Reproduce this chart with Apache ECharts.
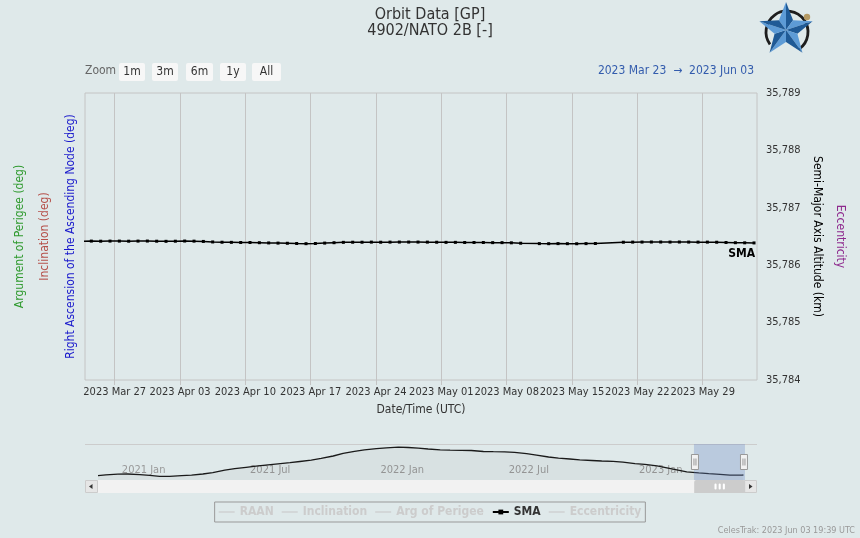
<!DOCTYPE html>
<html><head><meta charset="utf-8">
<script src="https://cdn.jsdelivr.net/npm/echarts@6/dist/echarts.min.js"></script>
<style>html,body{margin:0;padding:0;background:#dfe9ea;}#c{width:860px;height:538px;}</style>
</head><body><div id="c"></div>
<script>
// ---------- data ----------
const smaDates = [
 '2023-03-23 12:00','2023-03-24 12:00','2023-03-25 12:00','2023-03-26 12:00','2023-03-27 12:00','2023-03-28 12:00',
 '2023-03-29 12:00','2023-03-30 12:00','2023-03-31 12:00','2023-04-01 12:00','2023-04-02 12:00','2023-04-03 12:00',
 '2023-04-04 12:00','2023-04-05 12:00','2023-04-06 12:00','2023-04-07 12:00','2023-04-08 12:00','2023-04-09 12:00',
 '2023-04-10 12:00','2023-04-11 12:00','2023-04-12 12:00','2023-04-13 12:00','2023-04-14 12:00','2023-04-15 12:00',
 '2023-04-16 12:00','2023-04-17 12:00','2023-04-18 12:00','2023-04-19 12:00','2023-04-20 12:00','2023-04-21 12:00',
 '2023-04-22 12:00','2023-04-23 12:00','2023-04-24 12:00','2023-04-25 12:00','2023-04-26 12:00','2023-04-27 12:00',
 '2023-04-28 12:00','2023-04-29 12:00','2023-04-30 12:00','2023-05-01 12:00','2023-05-02 12:00','2023-05-03 12:00',
 '2023-05-04 12:00','2023-05-05 12:00','2023-05-06 12:00','2023-05-07 12:00','2023-05-08 12:00','2023-05-09 12:00',
 '2023-05-11 12:00','2023-05-12 12:00','2023-05-13 12:00','2023-05-14 12:00','2023-05-15 12:00','2023-05-16 12:00',
 '2023-05-17 12:00','2023-05-20 12:00','2023-05-21 12:00','2023-05-22 12:00','2023-05-23 12:00','2023-05-24 12:00',
 '2023-05-25 12:00','2023-05-26 12:00','2023-05-27 12:00','2023-05-28 12:00','2023-05-29 12:00','2023-05-30 12:00',
 '2023-05-31 12:00','2023-06-01 12:00','2023-06-02 12:00','2023-06-03 12:00'
];
const smaValues = [
 35786.418,35786.420,35786.418,35786.420,35786.420,35786.418,
 35786.420,35786.421,35786.418,35786.416,35786.418,35786.421,
 35786.419,35786.414,35786.405,35786.400,35786.398,35786.396,
 35786.395,35786.392,35786.388,35786.385,35786.382,35786.378,
 35786.375,35786.378,35786.385,35786.392,35786.398,35786.400,
 35786.400,35786.402,35786.400,35786.402,35786.403,35786.403,
 35786.403,35786.402,35786.400,35786.398,35786.398,35786.396,
 35786.396,35786.395,35786.393,35786.393,35786.390,35786.383,
 35786.376,35786.375,35786.376,35786.375,35786.374,35786.376,
 35786.378,35786.400,35786.402,35786.403,35786.404,35786.404,
 35786.403,35786.404,35786.403,35786.402,35786.402,35786.400,
 35786.396,35786.392,35786.390,35786.388
];
// weekly tick labels on the date axis
const weekTicks = ['2023-03-27','2023-04-03','2023-04-10','2023-04-17','2023-04-24','2023-05-01',
 '2023-05-08','2023-05-15','2023-05-22','2023-05-29'];
// navigator (base series = RAAN, deg)
const navDates = [
 '2020-12-04','2020-12-15','2021-01-01','2021-01-15','2021-02-01','2021-02-15','2021-03-01','2021-03-15',
 '2021-04-01','2021-04-15','2021-05-01','2021-05-15','2021-06-01','2021-06-15','2021-07-01','2021-07-15',
 '2021-08-01','2021-08-15','2021-09-01','2021-09-15','2021-10-01','2021-10-15','2021-11-01','2021-11-15',
 '2021-12-01','2021-12-15','2022-01-01','2022-01-15','2022-02-01','2022-02-15','2022-03-01','2022-03-15',
 '2022-04-01','2022-04-15','2022-05-01','2022-05-15','2022-06-01','2022-06-15','2022-07-01','2022-07-15',
 '2022-08-01','2022-08-15','2022-09-01','2022-09-15','2022-10-01','2022-10-15','2022-11-01','2022-11-15',
 '2022-12-01','2022-12-15','2023-01-01','2023-01-15','2023-02-01','2023-02-15','2023-03-01','2023-03-15',
 '2023-04-01','2023-04-15','2023-05-01','2023-05-15','2023-06-01','2023-06-03'
];
const navRaan = [
 338.08,338.28,338.45,338.50,338.35,338.15,337.90,337.93,
 338.10,338.20,338.50,338.83,339.45,339.83,340.18,340.48,
 340.80,341.05,341.35,341.63,341.95,342.38,343.00,343.65,
 344.18,344.55,344.85,345.05,345.23,345.13,344.95,344.75,
 344.53,344.45,344.43,344.38,344.13,344.08,344.05,343.90,
 343.58,343.23,342.75,342.45,342.25,342.05,341.88,341.75,
 341.65,341.48,341.10,340.90,340.53,340.05,339.55,339.05,
 338.78,338.58,338.40,338.20,338.23,338.25
];
const legendNames = ['RAAN','Inclination','Arg of Perigee','SMA','Eccentricity'];
const smaAxis = {min:35784, max:35789, step:1};
const windowRange = ['2023-03-23 19:39','2023-06-03 19:39'];
const navRange = ['2020-12-04 00:00','2023-06-03 19:39'];
const zoomButtons = ['1m','3m','6m','1y','All'];

// ---------- helpers ----------
const FONT = "'DejaVu Sans Condensed','DejaVu Sans',sans-serif";
const MON = ['Jan','Feb','Mar','Apr','May','Jun','Jul','Aug','Sep','Oct','Nov','Dec'];
const ts = s => new Date(s.replace(' ','T') + (s.length<=10?'T00:00':'') + 'Z').getTime();
const EPOCH = Date.UTC(2023,2,27);
const day = t => (t - EPOCH)/864e5;
const fmtDay = v => { const d = new Date(EPOCH + v*864e5); return d.getUTCFullYear()+' '+MON[d.getUTCMonth()]+' '+String(d.getUTCDate()).padStart(2,'0'); };
const comma = v => String(v).replace(/\B(?=(\d{3})+(?!\d))/g, ',');

const smaData = smaDates.map((d,i)=>[day(ts(d)), smaValues[i]]);
const navData = navDates.map((d,i)=>[ts(d), navRaan[i]]);
const weekVals = weekTicks.map(d=>day(ts(d)));

// logo (decoration)
const logo = [];
(function(){
  const cx=786, cy=30, R=28, r=12;
  const P=(a,rad)=>[cx+rad*Math.cos(a*Math.PI/180), cy+rad*Math.sin(a*Math.PI/180)];
  logo.push({type:'arc', shape:{cx:cx+1, cy:cy+2, r:21, startAngle:Math.PI*0.8, endAngle:Math.PI*2.3}, style:{stroke:'#1e1e1e', lineWidth:2.8, fill:null}, z:10});
  for(let i=0;i<5;i++){
    const a=-90+72*i;
    const O=P(a,R), L=P(a-36,r), Rr=P(a+36,r);
    logo.push({type:'polygon', shape:{points:[[cx,cy],O,L]}, style:{fill:'#5d9bd6'}, z:11});
    logo.push({type:'polygon', shape:{points:[[cx,cy],O,Rr]}, style:{fill:'#1f5a96'}, z:11});
  }
  logo.push({type:'circle', shape:{cx:807, cy:17, r:3.2}, style:{fill:'#b59a64'}, z:11});
})();

const btnX = [119,152,186,220,252], btnW=[26,26,27,26,29];
const graphics = [
  {type:'text', left:85, top:65, style:{text:'Zoom', fill:'#666', font:'12px '+FONT}},
  ...zoomButtons.map((b,i)=>({type:'group', left:btnX[i], top:63, children:[
     {type:'rect', shape:{x:0,y:0,width:btnW[i],height:18, r:2}, style:{fill:'#f7f7f7'}},
     {type:'text', style:{text:b, x:btnW[i]/2, y:9, align:'center', verticalAlign:'middle', fill:'#333', font:'12px '+FONT}}
  ]})),
  {type:'text', right:106, top:65, style:{text:fmtDay(day(ts(windowRange[0])))+'  \u2192  '+fmtDay(day(ts(windowRange[1]))), fill:'#335cad', font:'12px '+FONT}},
  {type:'line', shape:{x1:85,y1:444.5,x2:757,y2:444.5}, style:{stroke:'#cccccc', lineWidth:1}},
  {type:'rect', shape:{x:85,y:480,width:672,height:13}, style:{fill:'#f2f2f2'}, z:-1},
  {type:'group', left:85, top:480, children:[
    {type:'rect', shape:{x:0.5,y:0.5,width:12,height:12}, style:{fill:'#e6e6e6', stroke:'#cccccc'}},
    {type:'polygon', shape:{points:[[4,6.5],[7.5,4],[7.5,9]]}, style:{fill:'#333'}}
  ]},
  {type:'group', left:744, top:480, children:[
    {type:'rect', shape:{x:0.5,y:0.5,width:12,height:12}, style:{fill:'#e6e6e6', stroke:'#cccccc'}},
    {type:'polygon', shape:{points:[[8.5,6.5],[5,4],[5,9]]}, style:{fill:'#333'}}
  ]},
  {type:'text', right:5, top:526, style:{text:'CelesTrak: 2023 Jun 03 19:39 UTC', fill:'#999', font:'9px '+FONT}},
  ...logo
];

const hiddenAxis = (name, color, pos, offset, rot) => ({
  type:'value', gridIndex:0, position:pos, offset:offset,
  axisLine:{show:false}, axisTick:{show:false}, axisLabel:{show:false}, splitLine:{show:false},
  name:name, nameLocation:'middle', nameRotate:rot, nameGap:8,
  nameTextStyle:{color:color, fontSize:12, fontFamily:FONT}
});
const lineIcon = 'path://M0,0 M16,6 M0,2.4 L16,2.4 L16,3.6 L0,3.6 Z';

const option = {
  backgroundColor:'#dfe9ea',
  useUTC:true,
  animation:false,
  textStyle:{fontFamily:FONT},
  title:{text:'Orbit Data [GP]', subtext:'4902/NATO 2B [-]', left:'center', top:2, itemGap:0,
    textStyle:{fontSize:16, fontWeight:'normal', color:'#333', fontFamily:FONT},
    subtextStyle:{fontSize:16, color:'#333', fontFamily:FONT}},
  legend:{
    data:legendNames.map(n => n==='SMA' ? {name:n} : {name:n, icon:lineIcon}),
    top:502, left:'center', borderColor:'#999', borderWidth:1, padding:[4,4],
    itemGap:8, itemWidth:16, itemHeight:6,
    selected:{'RAAN':false,'Inclination':false,'Arg of Perigee':false,'Eccentricity':false},
    inactiveColor:'#cccccc', inactiveBorderColor:'#cccccc',
    textStyle:{fontWeight:'bold', fontSize:12, color:'#333', fontFamily:FONT}},
  grid:[
    {left:85, right:103, top:93, bottom:158, show:true, borderColor:'#c4c4c4', borderWidth:1, backgroundColor:'transparent'},
    {left:98, right:116, top:444, height:36}
  ],
  xAxis:[
    {type:'value', gridIndex:0, min:day(ts(navRange[0])), max:day(ts(navRange[1])),
     axisLine:{show:false},
     axisTick:{show:true, length:5, lineStyle:{color:'#c4c4c4'}, customValues:weekVals},
     axisLabel:{color:'#333', fontSize:11, margin:7, formatter:fmtDay, customValues:weekVals},
     splitLine:{show:true, lineStyle:{color:'#c4c4c4', width:1}},
     name:'Date/Time (UTC)', nameLocation:'middle', nameGap:24, nameTextStyle:{color:'#333', fontSize:12}},
    {type:'time', gridIndex:1, min:ts(navRange[0]), max:ts(navRange[1]), splitNumber:5,
     axisLine:{show:false}, axisTick:{show:false}, splitLine:{show:false},
     axisLabel:{inside:true, color:'#999', fontSize:11, align:'left', padding:[0,0,0,4], margin:4,
       showMinLabel:false, showMaxLabel:false,
       formatter:v=>{const d=new Date(v); return d.getUTCFullYear()+' '+MON[d.getUTCMonth()];}}}
  ],
  yAxis:[
    {type:'value', gridIndex:0, position:'right', min:smaAxis.min, max:smaAxis.max, interval:smaAxis.step,
     axisLine:{show:false}, axisTick:{show:false}, splitLine:{show:false},
     axisLabel:{color:'#333', fontSize:11, margin:9, formatter:comma},
     name:'Semi-Major Axis Altitude (km)', nameLocation:'middle', nameRotate:-90, nameGap:52,
     nameTextStyle:{color:'#000', fontSize:12, fontFamily:FONT}},
    hiddenAxis('Right Ascension of the Ascending Node (deg)','#1a1acc','left',0,90),
    hiddenAxis('Inclination (deg)','#b5504a','left',26,90),
    hiddenAxis('Argument of Perigee (deg)','#2f9a2f','left',51,90),
    hiddenAxis('Eccentricity','#8e2a8e','right',69,-90),
    {type:'value', gridIndex:1, min:337, max:346, show:false}
  ],
  dataZoom:[
   {type:'slider', xAxisIndex:0, filterMode:'none',
    startValue:day(ts(windowRange[0])), endValue:day(ts(windowRange[1])),
    left:98, right:116, top:444, height:36,
    showDetail:false, showDataShadow:false, brushSelect:false,
    backgroundColor:'transparent', borderColor:'transparent',
    fillerColor:'rgba(102,133,194,0.3)',
    handleIcon:'path://M0,0 L7,0 L7,15 L0,15 Z M2.5,4 L2.5,11 M4.5,4 L4.5,11',
    handleSize:15, handleStyle:{color:'#f2f2f2', borderColor:'#999', borderWidth:1},
    emphasis:{handleStyle:{borderColor:'#999'}}},
   {type:'slider', xAxisIndex:0, filterMode:'none',
    startValue:day(ts(windowRange[0])), endValue:day(ts(windowRange[1])),
    left:94, right:120, top:480, height:1,
    showDetail:false, showDataShadow:false, brushSelect:true,
    backgroundColor:'transparent', borderColor:'transparent', fillerColor:'transparent',
    handleIcon:'path://M0,0 L1,0 L1,1 L0,1 Z', handleSize:1, handleStyle:{opacity:0},
    moveHandleSize:13, moveHandleStyle:{color:'#cccccc', opacity:1},
    emphasis:{handleStyle:{opacity:0}, moveHandleStyle:{color:'#cccccc', opacity:1}}}
  ],
  graphic:graphics,
  series:[
    {name:'RAAN', type:'line', xAxisIndex:0, yAxisIndex:1, data:[], color:'#1a1acc', symbol:'none'},
    {name:'Inclination', type:'line', xAxisIndex:0, yAxisIndex:2, data:[], color:'#b5504a', symbol:'none'},
    {name:'Arg of Perigee', type:'line', xAxisIndex:0, yAxisIndex:3, data:[], color:'#2f9a2f', symbol:'none'},
    {name:'SMA', type:'line', xAxisIndex:0, yAxisIndex:0, data:smaData, color:'#000',
     symbol:'rect', symbolSize:3, lineStyle:{width:1.5, color:'#000'}, itemStyle:{color:'#000'},
     endLabel:{show:true, formatter:'SMA', color:'#000', fontWeight:'bold', fontSize:12, fontFamily:FONT,
       align:'right', verticalAlign:'top', distance:0, offset:[1,5]}},
    {name:'Eccentricity', type:'line', xAxisIndex:0, yAxisIndex:4, data:[], color:'#8e2a8e', symbol:'none'},
    {name:'RAAN (navigator)', type:'line', xAxisIndex:1, yAxisIndex:5, data:navData, symbol:'none', silent:true,
     lineStyle:{width:1.3, color:'#1a1a1a'}, areaStyle:{color:'rgba(0,0,0,0.045)'}}
  ]
};
const chart = echarts.init(document.getElementById('c'), null, {renderer:'canvas'});
chart.setOption(option);
</script></body></html>
